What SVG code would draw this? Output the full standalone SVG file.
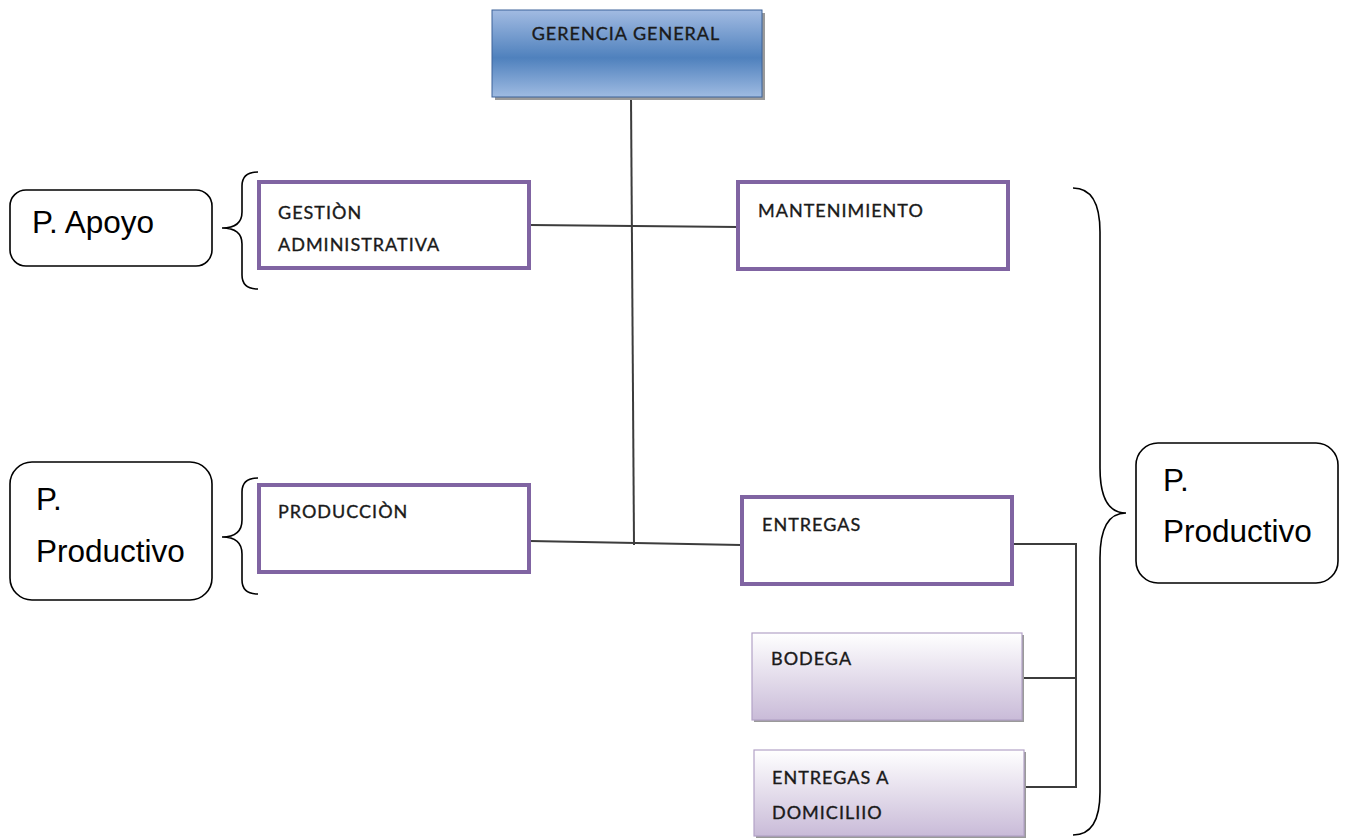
<svg xmlns="http://www.w3.org/2000/svg" width="1348" height="839" viewBox="0 0 1348 839">
  <style>
    .unit { fill: #ffffff; stroke: #8064a2; stroke-width: 4; }
    .sub { fill: url(#lilac); stroke: #b3a2c7; stroke-width: 1.2; }
    .shadow { fill: #9a9a9a; }
    .lbl { font-family: Lato, "Open Sans", sans-serif; font-size: 18px; fill: #1a1a1a; stroke: #1a1a1a; stroke-width: 0.35; letter-spacing: 1px; }
    .tag { fill: #ffffff; stroke: #000000; stroke-width: 1.6; }
    .tagtxt { font-family: "Liberation Sans", Arial, sans-serif; font-size: 31.5px; fill: #000000; }
    .wire { fill: none; stroke: #3c3c3c; stroke-width: 2; }
    .brace { fill: none; stroke: #000000; stroke-width: 1.6; }
  </style>
  <defs>
    <linearGradient id="blue" x1="0" y1="0" x2="0" y2="1">
      <stop offset="0" stop-color="#a2bbe2"/>
      <stop offset="0.55" stop-color="#4f81bd"/>
      <stop offset="1" stop-color="#9fbbe2"/>
    </linearGradient>
    <linearGradient id="lilac" x1="0" y1="0" x2="0" y2="1">
      <stop offset="0" stop-color="#ffffff"/>
      <stop offset="1" stop-color="#c9bbd8"/>
    </linearGradient>
  </defs>

  <rect width="1348" height="839" fill="#ffffff"/>

  <!-- connectors -->
  <g id="connectors">
    <line class="wire" x1="631" y1="97" x2="634" y2="545"/>
    <line class="wire" x1="530" y1="225" x2="738" y2="227"/>
    <line class="wire" x1="530" y1="541" x2="741" y2="545"/>
    <polyline class="wire" points="1013,544 1076,544 1076,787 1025,787"/>
    <line class="wire" x1="1023" y1="678" x2="1076" y2="678"/>
  </g>

  <!-- braces -->
  <g id="braces">
    <path class="brace" d="M258,172 Q242,172 242,186 L242,212 Q242,228 222,228 Q242,228 242,244 L242,275 Q242,289 258,289"/>
    <path class="brace" d="M258,478 Q242,478 242,492 L242,520 Q242,537 222,537 Q242,537 242,554 L242,580 Q242,594 258,594"/>
    <path class="brace" d="M1073,188 Q1100,188 1100,232 L1100,468 Q1100,513 1126,513 Q1100,513 1100,558 L1100,792 Q1100,835 1073,835"/>
  </g>

  <g id="gerencia-general">
    <rect class="shadow" x="495" y="13" width="270" height="87"/>
    <rect x="492" y="10" width="270" height="87" fill="url(#blue)" stroke="#3d6399" stroke-width="1"/>
    <text class="lbl" x="626" y="40" text-anchor="middle">GERENCIA  GENERAL</text>
  </g>

  <g id="gestion-administrativa">
    <rect class="unit" x="259" y="182" width="270" height="86"/>
    <text class="lbl" x="278" y="219">GESTIÒN</text>
    <text class="lbl" x="278" y="251">ADMINISTRATIVA</text>
  </g>

  <g id="mantenimiento">
    <rect class="unit" x="738" y="182" width="270" height="87"/>
    <text class="lbl" x="758" y="217">MANTENIMIENTO</text>
  </g>

  <g id="produccion">
    <rect class="unit" x="259" y="485" width="270" height="87"/>
    <text class="lbl" x="278" y="518">PRODUCCIÒN</text>
  </g>

  <g id="entregas">
    <rect class="unit" x="742" y="497" width="270" height="87"/>
    <text class="lbl" x="762" y="531">ENTREGAS</text>
  </g>

  <g id="bodega">
    <rect class="shadow" x="754" y="635" width="270" height="87"/>
    <rect class="sub" x="752" y="633" width="270" height="87"/>
    <text class="lbl" x="771" y="665">BODEGA</text>
  </g>

  <g id="entregas-domicilio">
    <rect class="shadow" x="756" y="752" width="270" height="86"/>
    <rect class="sub" x="754" y="750" width="270" height="86"/>
    <text class="lbl" x="772" y="784">ENTREGAS  A</text>
    <text class="lbl" x="772" y="819">DOMICILIIO</text>
  </g>

  <g id="p-apoyo">
    <rect class="tag" x="10" y="190" width="202" height="76" rx="16"/>
    <text class="tagtxt" x="32" y="233">P. Apoyo</text>
  </g>

  <g id="p-productivo-left">
    <rect class="tag" x="10" y="462" width="202" height="138" rx="22"/>
    <text class="tagtxt" x="36" y="510">P.</text>
    <text class="tagtxt" x="36" y="562">Productivo</text>
  </g>

  <g id="p-productivo-right">
    <rect class="tag" x="1136" y="443" width="202" height="140" rx="22"/>
    <text class="tagtxt" x="1163" y="491">P.</text>
    <text class="tagtxt" x="1163" y="542">Productivo</text>
  </g>
</svg>
